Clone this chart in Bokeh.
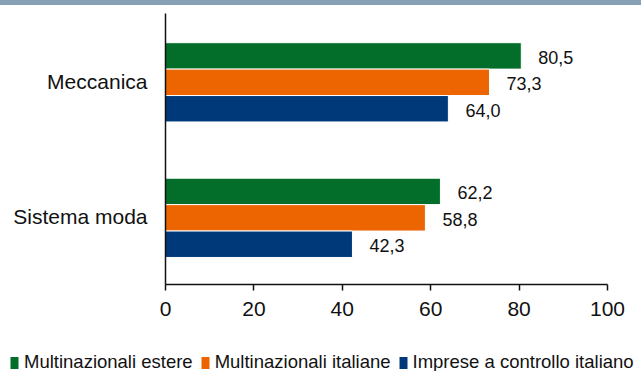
from bokeh.plotting import figure
from bokeh.models import (ColumnDataSource, Range1d, FactorRange, Legend, LegendItem,
                          FixedTicker, Div)
from bokeh.transform import dodge
from bokeh.layouts import column, row
from bokeh.core.properties import value
from bokeh.embed import file_html
from bokeh.resources import INLINE

# ---- data ----
categories = ["Sistema moda", "Meccanica"]          # bottom to top
series_names = ["Multinazionali estere", "Multinazionali italiane", "Imprese a controllo italiano"]
estere = [62.2, 80.5]
italiane = [58.8, 73.3]
controllo_italiano = [42.3, 64.0]
x_ticks = [0, 20, 40, 60, 80, 100]

colors = ["#036D2A", "#EC6500", "#00397A"]
FONT = "Liberation Sans"
series_values = [estere, italiane, controllo_italiano]

p = figure(width=641, height=345, y_range=FactorRange(factors=categories),
           x_range=Range1d(0, 100), output_backend="svg", toolbar_location=None,
           min_border_left=165, min_border_right=34, min_border_top=8,
           min_border_bottom=66, margin=0)

step = 0.195
center = -0.008
offsets = [center + step, center, center - step]
for vals, off, col, name in zip(series_values, offsets, colors, series_names):
    labels = [f"{v:.1f}".replace(".", ",") for v in vals]
    src = ColumnDataSource(dict(cat=categories, val=vals, lab=labels))
    p.hbar(y=dodge("cat", off, range=p.y_range), right="val", left=0, height=step,
           source=src, fill_color=col, line_color="white", line_width=1)
    p.text(x="val", y=dodge("cat", off, range=p.y_range), text="lab", source=src,
           x_offset=17, y_offset=1.5, text_align="left", text_baseline="middle",
           text_font=value(FONT), text_font_size="18px", text_color="#111111")

p.xgrid.visible = False
p.ygrid.visible = False
p.outline_line_color = None
p.background_fill_color = "white"

xa = p.xaxis[0]
xa.ticker = FixedTicker(ticks=x_ticks)
xa.major_tick_out = 6
xa.major_tick_in = 0
xa.minor_tick_line_color = None
xa.axis_line_color = "#111111"
xa.axis_line_width = 1.5
xa.major_tick_line_color = "#111111"
xa.major_tick_line_width = 1.5
xa.major_label_text_font = FONT
xa.major_label_text_font_size = "21px"
xa.major_label_text_color = "#111111"
xa.major_label_standoff = 11

ya = p.yaxis[0]
ya.major_tick_out = 0
ya.major_tick_in = 0
ya.minor_tick_line_color = None
ya.axis_line_color = "#111111"
ya.axis_line_width = 1.5
ya.major_label_text_font = FONT
ya.major_label_text_font_size = "21px"
ya.major_label_text_color = "#111111"
ya.major_label_standoff = 18

# ---- legend strip (separate figure so it may span the full width) ----
# same bars, drawn outside this strip's visible x-range; only their legend shows
lg = figure(width=641, height=21, x_range=Range1d(-2, -1), y_range=FactorRange(factors=categories),
            output_backend="svg", toolbar_location=None, margin=0,
            min_border=0, min_border_left=0, min_border_right=0,
            min_border_top=0, min_border_bottom=0,
            x_axis_location=None, y_axis_location=None)
lg.grid.visible = False
lg.outline_line_color = None
items = []
for vals, col, name in zip(series_values, colors, series_names):
    r = lg.hbar(y=categories, right=vals, left=0, height=0.5, fill_color=col, line_color=None)
    items.append(LegendItem(label=name, renderers=[r]))
legend = Legend(items=items, orientation="horizontal", location=(9, -2),
                glyph_width=10, glyph_height=15, label_standoff=5, spacing=7,
                padding=0, margin=0, border_line_color=None, background_fill_alpha=0,
                label_text_font=FONT, label_text_font_size="18.5px",
                label_text_color="#111111", label_height=20)
lg.add_layout(legend, "center")

strip = Div(width=641, height=5, margin=0, styles={"background-color": "#87A0B6"})
layout = column(strip, p, row(lg, margin=0), spacing=0, margin=0)

open("out.html", "w").write(file_html(layout, INLINE))
